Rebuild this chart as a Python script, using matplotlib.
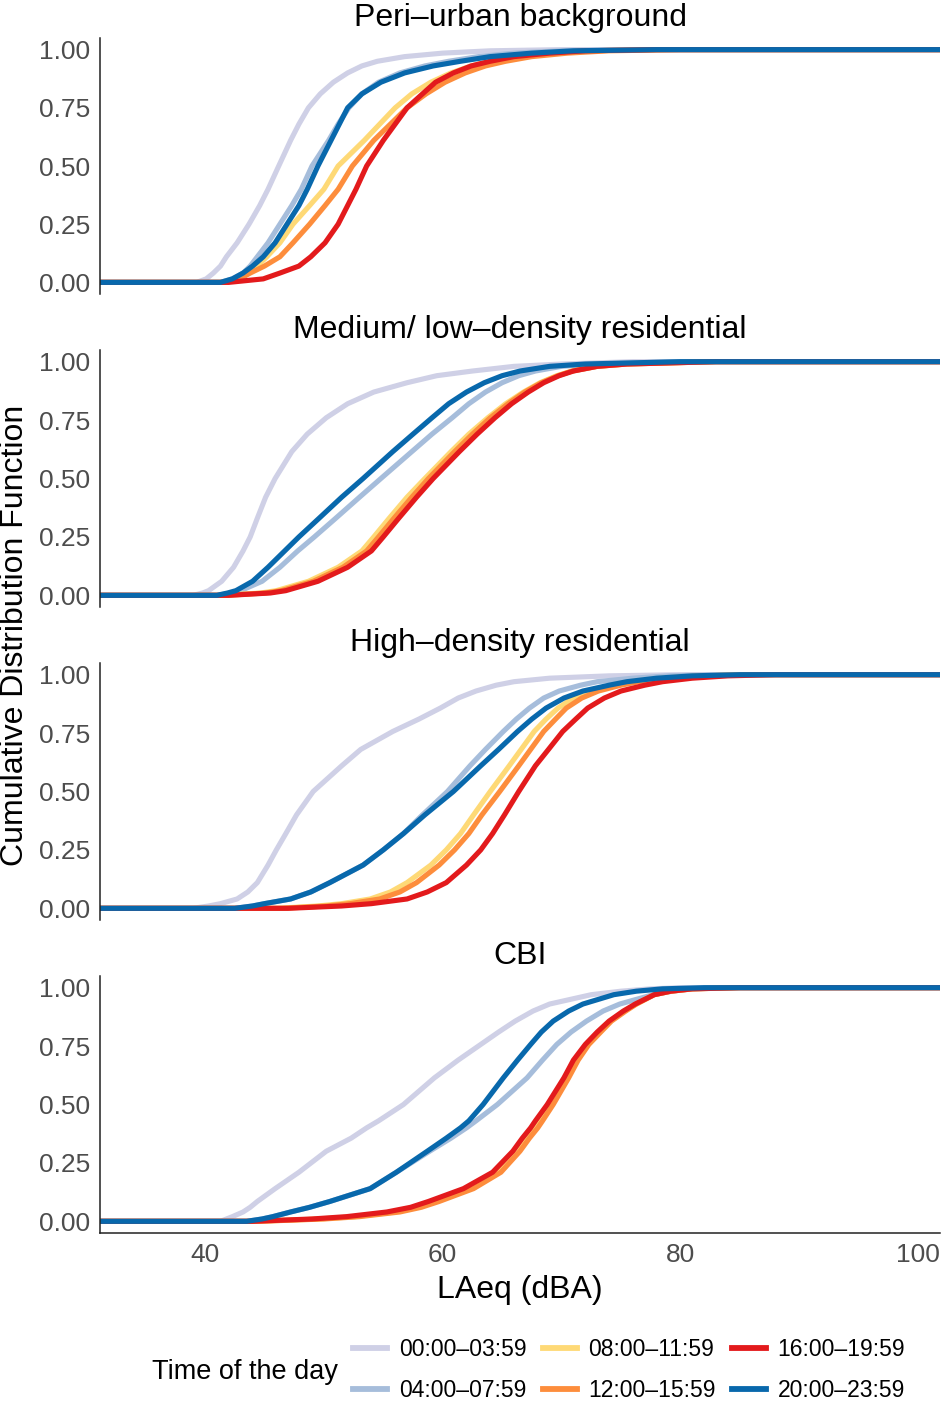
import matplotlib
matplotlib.use('Agg')
import matplotlib.pyplot as plt
from matplotlib.lines import Line2D

plt.rcParams['font.family'] = ['Liberation Sans', 'DejaVu Sans']

# Time-of-day groups and their colours
periods = ['00:00–03:59', '04:00–07:59', '08:00–11:59', '12:00–15:59', '16:00–19:59', '20:00–23:59']
colors = ['#cfd0e6', '#a6bddb', '#fed976', '#fd8d3c', '#e31a1c', '#0868ac']

# Panel titles
titles = ['Peri–urban background', 'Medium/ low–density residential', 'High–density residential', 'CBI']

# Peri-urban background: CDF levels and the LAeq read at each level, one list per period
peri_levels = [0, 0, 0.015, 0.04, 0.07, 0.11, 0.17, 0.25, 0.33, 0.4, 0.5, 0.61, 0.68, 0.75,
               0.81, 0.86, 0.9, 0.93, 0.95, 0.97, 0.985, 0.995, 1, 1]
peri_x = [
    [30, 39.3, 40.1, 40.7, 41.3, 41.8, 42.7, 43.7, 44.6, 45.3, 46.2, 47.2, 47.9, 48.7, 49.7, 50.8, 52.0, 53.2, 54.5, 56.8, 60.0, 64.0, 70, 105],
    [30, 41.3, 42.3, 43.2, 43.8, 44.4, 45.3, 46.3, 47.3, 48.1, 49.0, 50.4, 51.2, 52.1, 53.2, 54.6, 56.4, 58.5, 60.5, 63.0, 66.0, 70.0, 76, 105],
    [30, 41.8, 42.8, 43.5, 44.4, 45.2, 46.3, 47.4, 48.8, 50.0, 51.2, 53.4, 54.7, 56.0, 57.4, 59.0, 60.7, 62.4, 64.0, 66.0, 69.0, 72.0, 78, 105],
    [30, 41.8, 42.9, 43.8, 45.0, 46.3, 47.4, 48.8, 50.1, 51.2, 52.4, 54.2, 55.6, 57.0, 58.6, 60.2, 61.9, 63.6, 65.3, 67.5, 70.5, 74.0, 80, 105],
    [30, 42.0, 44.9, 46.3, 47.9, 48.9, 50.1, 51.2, 52.0, 52.7, 53.6, 55.0, 56.0, 57.0, 58.3, 59.4, 60.9, 62.4, 64.0, 66.0, 69.0, 72.0, 78, 105],
    [30, 41.3, 42.3, 43.2, 44.0, 44.9, 45.9, 46.9, 47.9, 48.6, 49.5, 50.6, 51.3, 52.0, 53.2, 54.8, 56.8, 59.2, 61.5, 64.0, 67.5, 71.0, 78, 105],
]

# Medium / low-density residential
med_levels = [0, 0, 0.01, 0.02, 0.06, 0.12, 0.19, 0.25, 0.33, 0.42, 0.5, 0.615, 0.69, 0.76,
              0.82, 0.87, 0.91, 0.94, 0.96, 0.98, 0.99, 1, 1]
med_x = [
    [30, 39.0, 39.8, 40.3, 41.4, 42.4, 43.2, 43.8, 44.4, 45.1, 45.9, 47.3, 48.6, 50.2, 52.0, 54.2, 57.0, 59.5, 62.5, 66.0, 70.0, 76, 105],
    [30, 41.0, 42.2, 43.0, 44.8, 46.3, 47.8, 49.2, 51.0, 53.0, 54.8, 57.4, 59.1, 60.8, 62.2, 63.6, 65.0, 66.4, 67.8, 70.0, 73.0, 80, 105],
    [30, 41.5, 44.7, 46.0, 48.7, 51.2, 53.2, 54.2, 55.5, 57.0, 58.5, 60.7, 62.2, 63.8, 65.3, 66.8, 68.2, 69.6, 70.9, 73.0, 75.5, 83, 105],
    [30, 41.8, 45.1, 46.4, 49.1, 51.6, 53.6, 54.6, 55.9, 57.4, 58.8, 61.0, 62.5, 64.0, 65.5, 66.9, 68.3, 69.7, 70.9, 73.0, 75.5, 83, 105],
    [30, 42.0, 45.5, 46.8, 49.5, 52.0, 54.0, 55.0, 56.3, 57.8, 59.2, 61.4, 62.9, 64.4, 65.8, 67.2, 68.5, 69.8, 71.0, 73.0, 75.5, 83, 105],
    [30, 41.0, 41.9, 42.6, 44.0, 45.3, 46.7, 47.9, 49.6, 51.5, 53.3, 55.8, 57.5, 59.1, 60.5, 62.0, 63.5, 65.0, 66.5, 69.0, 72.0, 80, 105],
]

# High-density residential
high_levels = [0, 0, 0.01, 0.02, 0.04, 0.07, 0.11, 0.185, 0.25, 0.32, 0.4, 0.5, 0.61, 0.68,
               0.757, 0.81, 0.857, 0.9, 0.93, 0.955, 0.97, 0.985, 0.995, 1, 1]
high_x = [
    [30, 39.0, 40.3, 41.3, 42.7, 43.6, 44.4, 45.3, 46.0, 46.8, 47.7, 49.1, 51.5, 53.1, 55.8, 58.0, 59.8, 61.3, 62.8, 64.5, 66.0, 69.0, 74.0, 80, 105],
    [30, 42.5, 44.0, 45.0, 47.2, 48.9, 50.5, 53.3, 55.0, 56.7, 58.3, 60.4, 62.3, 63.6, 65.1, 66.2, 67.3, 68.5, 69.8, 71.6, 73.0, 76.0, 79.0, 84, 105],
    [30, 46.0, 49.5, 51.5, 53.9, 55.6, 57.0, 59.0, 60.3, 61.5, 62.6, 64.0, 65.6, 66.6, 67.7, 68.7, 69.7, 71.0, 72.4, 74.3, 75.8, 78.5, 81.5, 86, 105],
    [30, 46.5, 50.2, 52.2, 54.7, 56.4, 57.8, 59.7, 61.0, 62.2, 63.3, 64.8, 66.4, 67.4, 68.5, 69.5, 70.4, 71.7, 73.1, 75.0, 76.5, 79.0, 82.0, 86, 105],
    [30, 47.0, 51.5, 54.0, 57.0, 58.7, 60.3, 62.0, 63.2, 64.2, 65.2, 66.4, 67.8, 68.9, 70.1, 71.2, 72.2, 73.6, 75.0, 77.0, 78.5, 81.0, 84.0, 88, 105],
    [30, 42.5, 44.0, 45.0, 47.2, 48.9, 50.5, 53.3, 55.0, 56.7, 58.5, 60.9, 63.2, 64.7, 66.3, 67.5, 68.7, 70.2, 71.8, 74.0, 75.5, 78.0, 81.0, 85, 105],
]

# CBI
cbi_levels = [0, 0, 0.01, 0.02, 0.04, 0.06, 0.085, 0.14, 0.21, 0.3, 0.356, 0.4, 0.43, 0.5,
              0.614, 0.69, 0.757, 0.81, 0.857, 0.9, 0.93, 0.97, 0.985, 0.995, 1, 1]
cbi_x = [
    [30, 41.3, 41.8, 42.3, 43.2, 43.8, 44.4, 45.9, 47.9, 50.2, 52.3, 53.6, 54.6, 56.7, 59.3, 61.3, 63.2, 64.7, 66.1, 67.6, 69.0, 72.5, 75.0, 77.5, 80, 105],
    [30, 43.5, 44.8, 45.7, 47.2, 48.8, 50.5, 53.9, 56.1, 58.9, 60.7, 62.0, 62.8, 64.6, 67.1, 68.4, 69.6, 70.8, 72.1, 73.5, 74.9, 77.7, 79.3, 81.0, 84, 105],
    [30, 44.3, 49.6, 52.6, 56.0, 57.8, 59.3, 62.3, 64.6, 66.3, 67.1, 67.8, 68.2, 69.1, 70.4, 71.2, 72.2, 73.2, 74.1, 75.3, 76.3, 77.8, 79.2, 81.0, 85, 105],
    [30, 44.5, 50.0, 53.0, 56.4, 58.2, 59.7, 62.6, 64.9, 66.5, 67.3, 68.0, 68.4, 69.3, 70.6, 71.4, 72.3, 73.3, 74.2, 75.4, 76.3, 77.8, 79.2, 81.0, 85, 105],
    [30, 44.0, 49.0, 51.9, 55.3, 57.3, 58.8, 61.75, 64.2, 65.9, 66.7, 67.4, 67.8, 68.8, 70.2, 71.0, 72.0, 73.0, 74.0, 75.2, 76.2, 77.8, 79.2, 81.0, 85, 105],
    [30, 43.5, 44.8, 45.7, 47.2, 48.8, 50.5, 53.9, 56.1, 58.7, 60.3, 61.5, 62.2, 63.4, 65.1, 66.3, 67.4, 68.3, 69.3, 70.6, 71.8, 74.4, 76.3, 78.5, 82, 105],
]

panels = [(peri_levels, peri_x), (med_levels, med_x), (high_levels, high_x), (cbi_levels, cbi_x)]

W, H = 944, 1402
fig = plt.figure(figsize=(W / 100, H / 100), dpi=100)

# axes boxes in pixels (top, bottom)
boxes = [(38, 294), (350, 607), (663, 920), (976, 1233)]
left, right = 100, 940

for i, (levels, xs) in enumerate(panels):
    top, bottom = boxes[i]
    ax = fig.add_axes([left / W, (H - bottom) / H, (right - left) / W, (bottom - top) / H])
    for x, c in zip(xs, colors):
        ax.plot(x, levels, color=c, lw=3.7, solid_joinstyle='round')
    ax.set_xlim(31.16, 101.85)
    ax.set_ylim(-0.05, 1.05)
    ax.set_yticks([0, 0.25, 0.5, 0.75, 1.0])
    ax.set_yticklabels(['0.00', '0.25', '0.50', '0.75', '1.00'])
    ax.tick_params(length=0, pad=7, labelsize=19, labelcolor='#4d4d4d')
    for s in ['top', 'right']:
        ax.spines[s].set_visible(False)
    ax.spines['left'].set_color('#222222')
    ax.spines['left'].set_linewidth(1.1)
    if i < 3:
        ax.spines['bottom'].set_visible(False)
        ax.set_xticks([])
    else:
        ax.spines['bottom'].set_color('#222222')
        ax.spines['bottom'].set_linewidth(1.1)
        ax.set_xticks([40, 60, 80, 100])
        ax.set_xlabel('LAeq (dBA)', fontsize=23, labelpad=6)
    ax.text(0.5, 1.045, titles[i], transform=ax.transAxes, ha='center', va='baseline', fontsize=23)

fig.text(15 / W, (H - 635) / H, 'Cumulative Distribution Function', rotation=90,
         ha='center', va='center', fontsize=23)

# Legend: title on the left, keys in three columns
handles = [Line2D([], [], color=c, lw=4.2) for c in colors]
fig.legend(handles, periods, loc='center left', bbox_to_anchor=(353 / W, (H - 1370) / H),
           ncol=3, frameon=False, fontsize=16.5, handlelength=1.5, handletextpad=0.5,
           columnspacing=0.7, labelspacing=0.75, borderpad=0, borderaxespad=0)
fig.text(152 / W, (H - 1372) / H, 'Time of the day', ha='left', va='center', fontsize=19.5)

plt.savefig('out.png', dpi=100)
